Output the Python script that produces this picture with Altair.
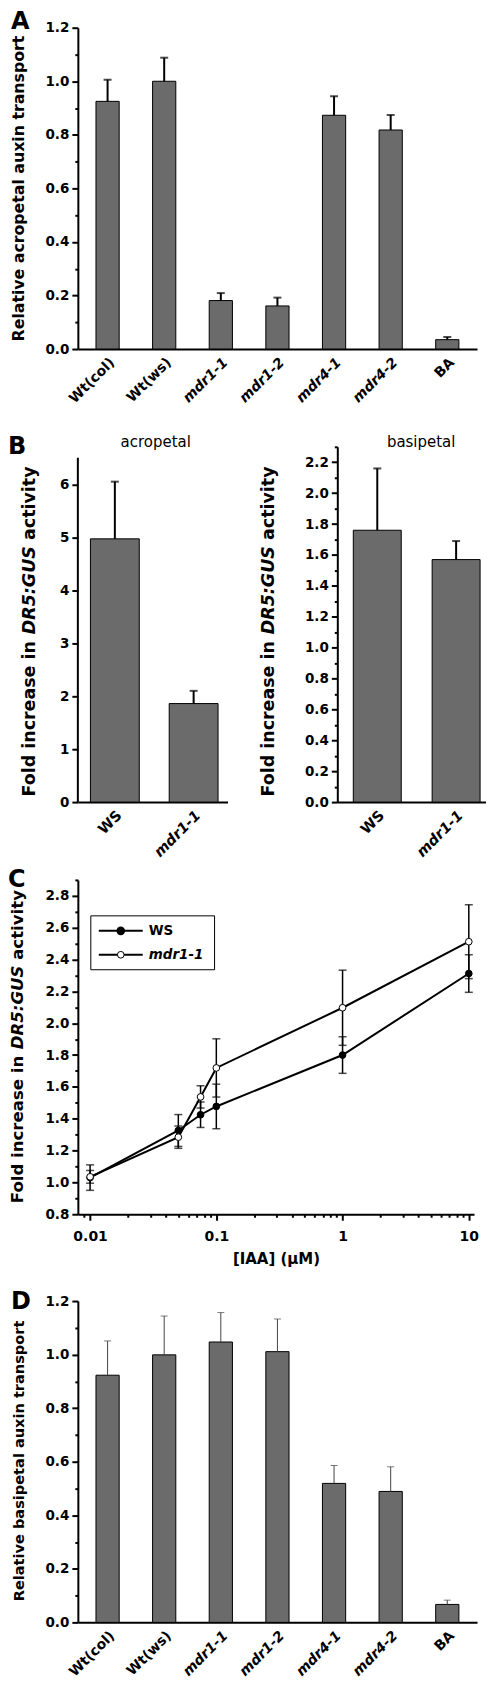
import altair as alt
import pandas as pd

FONT = "DejaVu Sans"
BAR_FILL = "#6b6b6b"

# ---------------- data ----------------
a_strains = ["Wt(col)", "Wt(ws)", "mdr1-1", "mdr1-2", "mdr4-1", "mdr4-2", "BA"]
a_means = [0.925, 1.0, 0.181, 0.161, 0.873, 0.818, 0.035]
a_upper = [1.006, 1.088, 0.209, 0.192, 0.944, 0.874, 0.045]

b_lines = ["WS", "mdr1-1"]
b_acro_means = [4.97, 1.86]
b_acro_upper = [6.05, 2.10]
b_basi_means = [1.76, 1.57]
b_basi_upper = [2.16, 1.69]

c_iaa = [0.01, 0.05, 0.075, 0.1, 1, 10]
c_ws_means = [1.03, 1.326, 1.425, 1.477, 1.80, 2.312]
c_ws_err = [0.08, 0.10, 0.08, 0.14, 0.115, 0.118]
c_mdr_means = [1.035, 1.284, 1.537, 1.719, 2.097, 2.512]
c_mdr_err = [0.04, 0.07, 0.07, 0.183, 0.236, 0.232]

d_strains = ["Wt(col)", "Wt(ws)", "mdr1-1", "mdr1-2", "mdr4-1", "mdr4-2", "BA"]
d_means = [0.923, 0.999, 1.047, 1.011, 0.519, 0.489, 0.067]
d_upper = [1.051, 1.144, 1.157, 1.133, 0.586, 0.581, 0.083]

# tick values
a_ticks = [round(i * 0.1, 1) for i in range(13)]
b_acro_ticks = [i * 0.5 for i in range(14)]
b_basi_ticks = [round(i * 0.1, 1) for i in range(24)]
c_y_ticks = [round(0.8 + i * 0.1, 1) for i in range(22)]
c_x_ticks = [0.009] + [round(m * 10 ** e, 6) for e in (-2, -1, 0) for m in range(1, 10)] + [10]

one = pd.DataFrame({"k": [0]})

MAJ_02 = "abs(datum.value*5 - round(datum.value*5)) < 1e-6"
MAJ_1 = "abs(datum.value - round(datum.value)) < 1e-6"
MAJ_LOG = "abs(log(datum.value)/LN10 - round(log(datum.value)/LN10)) < 1e-6"
ITALIC_MDR = {"condition": {"test": "indexof(datum.value, 'mdr') == 0", "value": "italic"}, "value": "normal"}
TICK_LBL = 13.5


def y_axis(values, major, fmt, size=TICK_LBL, domain=True):
    return alt.Axis(values=values, format=fmt, title=None, grid=False, labelOverlap=False,
                    labelExpr=f"({major}) ? datum.label : ''",
                    tickSize={"condition": {"test": major, "value": 6}, "value": 3},
                    labelFontSize=size, labelPadding=3, domain=domain)


def x_band_axis(size=14):
    return alt.Axis(title=None, labelAngle=-45, ticks=False, labelPadding=6, labelOverlap=False,
                    labelFontSize=size, labelFontStyle=ITALIC_MDR, grid=False)


def letter(t, x, y):
    return alt.Chart(pd.DataFrame({"t": [t]})).mark_text(
        font=FONT, fontSize=24, fontWeight="bold", align="left", baseline="alphabetic", color="black"
    ).encode(text="t:N", x=alt.value(x), y=alt.value(y))


def vtitle(segs, fsize, cx, cy):
    """segs: list of (text, italic, width_in_em, gap_after_em)"""
    total = sum(w + g for _, _, w, g in segs) * fsize
    y0 = cy + total / 2
    acc = 0
    out = []
    for text, ital, w, g in segs:
        out.append(alt.Chart(pd.DataFrame({"t": [text]})).mark_text(
            font=FONT, fontSize=fsize, fontWeight="bold", fontStyle="italic" if ital else "normal",
            angle=270, align="left", baseline="middle", color="black"
        ).encode(text="t:N", x=alt.value(cx), y=alt.value(y0 - acc)))
        acc += (w + g) * fsize
    return out


DR5_SEGS = [("Fold increase in", False, 8.947, 0.348), ("DR5:GUS", True, 5.049, 0.348), ("activity", False, 4.214, 0.0)]


def bar_panel(cats, means, upper, ydomain, yticks, yfmt, pad_in, pad_out, align,
              err_w, err_color, cap, lab_size=14, ydomain_line=True):
    df = pd.DataFrame({"cat": cats, "mean": means, "upper": upper})
    xax = x_band_axis(lab_size)
    xscale = alt.Scale(paddingInner=pad_in, paddingOuter=pad_out, align=align)
    yscale = alt.Scale(domain=ydomain, nice=False, zero=True)
    yax = y_axis(yticks, *yfmt, domain=ydomain_line)
    X = alt.X("cat:N", sort=cats, scale=xscale, axis=xax)
    bars = alt.Chart(df).mark_bar(fill=BAR_FILL, stroke="black", strokeWidth=1).encode(
        x=X, y=alt.Y("mean:Q", scale=yscale, axis=yax))
    err = alt.Chart(df).mark_rule(color=err_color, strokeWidth=err_w).encode(
        x=X, y=alt.Y("mean:Q", scale=yscale, axis=yax), y2="upper:Q")
    caps = alt.Chart(df).mark_tick(color=err_color, thickness=err_w, size=cap, orient="horizontal").encode(
        x=X, y=alt.Y("upper:Q", scale=yscale, axis=yax))
    return [bars, err, caps]


# ---------------- panel A ----------------
A_layers = bar_panel(a_strains, a_means, a_upper, [0, 1.2], a_ticks, (MAJ_02, ".1f"),
                     0.59, 0.32, 0.5, 2, "black", 8)
A_layers += [letter("A", -67, 1)]
A_layers += vtitle([("Relative acropetal auxin transport", False, 19.413, 0.0)], 15.8, -58.5, 161)
panel_a = alt.layer(*A_layers).properties(width=400, height=322)

# ---------------- panel B ----------------
B_H = 356
left_top = 6.5 * B_H / 345.0
BL_layers = bar_panel(b_lines, b_acro_means, b_acro_upper, [0, left_top], b_acro_ticks, (MAJ_1, ".0f"),
                      0.38, 0.14, 0.57, 2, "black", 8, lab_size=14.5, ydomain_line=False)
axis_line = alt.Chart(one).mark_rule(color="black", strokeWidth=2).encode(
    x=alt.value(0), y=alt.datum(0), y2=alt.datum(6.5))
BL_layers += [axis_line, letter("B", -70, 7)]
BL_layers += [alt.Chart(pd.DataFrame({"t": ["acropetal"]})).mark_text(
    font=FONT, fontSize=15, color="black", baseline="middle").encode(
    text="t:N", x=alt.value(78), y=alt.value(-5))]
BL_layers += vtitle(DR5_SEGS, 17.5, -47.5, 185)
panel_bl = alt.layer(*BL_layers).properties(width=150, height=B_H)

BR_layers = bar_panel(b_lines, b_basi_means, b_basi_upper, [0, 2.3], b_basi_ticks, (MAJ_02, ".1f"),
                      0.392, 0.139, 0.73, 2, "black", 8, lab_size=14.5)
BR_layers += [alt.Chart(pd.DataFrame({"t": ["basipetal"]})).mark_text(
    font=FONT, fontSize=15, color="black", baseline="middle").encode(
    text="t:N", x=alt.value(84), y=alt.value(-5))]
BR_layers += vtitle(DR5_SEGS, 17.5, -68, 185)
panel_br = alt.layer(*BR_layers).properties(width=149, height=B_H)

panel_b = alt.hconcat(panel_bl, panel_br, spacing=32)

# ---------------- panel C ----------------
c_rows = []
for x, m, e in zip(c_iaa, c_ws_means, c_ws_err):
    c_rows.append({"iaa": x, "series": "WS", "mean": m, "lo": m - e, "hi": m + e})
for x, m, e in zip(c_iaa, c_mdr_means, c_mdr_err):
    c_rows.append({"iaa": x, "series": "mdr1-1", "mean": m, "lo": m - e, "hi": m + e})
cdf = pd.DataFrame(c_rows)

xs = alt.Scale(type="log", domain=[0.008, 11], nice=False)
ys = alt.Scale(domain=[0.8, 2.9], nice=False, zero=False)
cx_axis = alt.Axis(values=c_x_ticks, format="~g", title="[IAA] (μM)", grid=False, labelOverlap=False,
                   labelExpr=f"({MAJ_LOG}) ? datum.label : ''",
                   tickSize={"condition": {"test": MAJ_LOG, "value": 6}, "value": 3},
                   labelFontSize=14, labelPadding=9, titleFontSize=15, titlePadding=8)
cy_axis = y_axis(c_y_ticks, MAJ_02, ".1f")
CX = alt.X("iaa:Q", scale=xs, axis=cx_axis)
c_err = alt.Chart(cdf).mark_rule(color="black", strokeWidth=1.5).encode(
    x=CX, y=alt.Y("lo:Q", scale=ys, axis=cy_axis), y2="hi:Q")
c_cap_lo = alt.Chart(cdf).mark_tick(color="black", thickness=1.5, size=8, orient="horizontal").encode(
    x=CX, y=alt.Y("lo:Q", scale=ys, axis=cy_axis))
c_cap_hi = alt.Chart(cdf).mark_tick(color="black", thickness=1.5, size=8, orient="horizontal").encode(
    x=CX, y=alt.Y("hi:Q", scale=ys, axis=cy_axis))
c_line = alt.Chart(cdf).mark_line(color="black", strokeWidth=2).encode(
    x=CX, y=alt.Y("mean:Q", scale=ys, axis=cy_axis), detail="series:N")
c_pts = alt.Chart(cdf).transform_calculate(ord="datum.series == 'WS' ? 0 : 1").mark_point(
    shape="circle", filled=True, size=45, stroke="black", strokeWidth=1, opacity=1).encode(
    x=CX, y=alt.Y("mean:Q", scale=ys, axis=cy_axis),
    fill=alt.Fill("series:N", scale=alt.Scale(domain=["WS", "mdr1-1"], range=["black", "white"]), legend=None),
    order=alt.Order("ord:Q"))

leg_box = alt.Chart(one).mark_rect(fill="white", stroke="black", strokeWidth=1).encode(
    x=alt.value(13), x2=alt.value(137), y=alt.value(36), y2=alt.value(90))
leg_rule1 = alt.Chart(one).mark_rule(color="black", strokeWidth=2).encode(
    x=alt.value(21), x2=alt.value(65), y=alt.value(51))
leg_rule2 = alt.Chart(one).mark_rule(color="black", strokeWidth=2).encode(
    x=alt.value(21), x2=alt.value(65), y=alt.value(75))
leg_pt1 = alt.Chart(one).mark_point(shape="circle", filled=True, size=45, fill="black", stroke="black",
                                    opacity=1).encode(x=alt.value(43), y=alt.value(51))
leg_pt2 = alt.Chart(one).mark_point(shape="circle", filled=True, size=45, fill="white", stroke="black",
                                    strokeWidth=1, opacity=1).encode(x=alt.value(43), y=alt.value(75))
leg_t1 = alt.Chart(pd.DataFrame({"t": ["WS"]})).mark_text(
    font=FONT, fontSize=13.5, fontWeight="bold", align="left", baseline="middle", color="black").encode(
    text="t:N", x=alt.value(71), y=alt.value(51))
leg_t2 = alt.Chart(pd.DataFrame({"t": ["mdr1-1"]})).mark_text(
    font=FONT, fontSize=13.5, fontWeight="bold", fontStyle="italic", align="left", baseline="middle",
    color="black").encode(text="t:N", x=alt.value(71), y=alt.value(75))

C_layers = [c_err, c_cap_lo, c_cap_hi, c_line, c_pts, leg_box, leg_rule1, leg_rule2, leg_pt1, leg_pt2,
            leg_t1, leg_t2, letter("C", -70, 7)]
C_layers += vtitle(DR5_SEGS, 16.6, -60, 167)
panel_c = alt.layer(*C_layers).properties(width=397, height=335)

# ---------------- panel D ----------------
D_layers = bar_panel(d_strains, d_means, d_upper, [0, 1.2], a_ticks, (MAJ_02, ".1f"),
                     0.59, 0.32, 0.5, 1, "#444444", 7)
D_layers += [letter("D", -67, 8)]
D_layers += vtitle([("Relative basipetal auxin transport", False, 19.294, 0.0)], 14.6, -57.5, 160)
panel_d = alt.layer(*D_layers).properties(width=400, height=322)

chart = alt.vconcat(
    alt.vconcat(panel_a, panel_b, spacing=29),
    alt.vconcat(panel_c, panel_d, spacing=24),
    spacing=8,
).properties(padding={"left": 0, "top": 0, "right": 0, "bottom": 0}, background="white").configure_view(
    stroke=None
).configure_axis(
    domainColor="black", domainWidth=2, tickColor="black", tickWidth=2, labelOverlap=False,
    labelColor="black", labelFont=FONT, labelFontWeight="bold",
    titleFont=FONT, titleFontWeight="bold", titleColor="black"
)

chart.save("out.html", embed_options={"renderer": "svg", "actions": False})
